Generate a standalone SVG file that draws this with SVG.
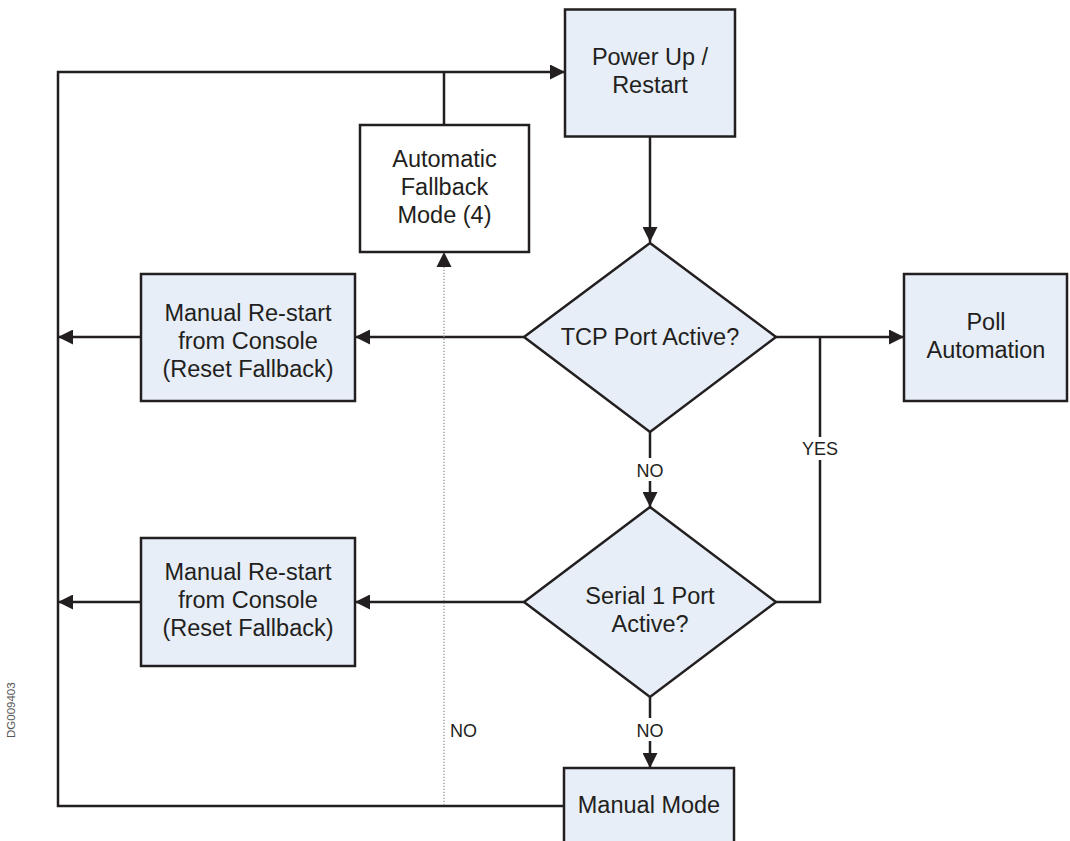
<svg xmlns="http://www.w3.org/2000/svg" width="1070" height="841" viewBox="0 0 1070 841">
<style>
.box{fill:#E7EEF7;stroke:#231F20;stroke-width:2.5}
.wbox{fill:#FFFFFF;stroke:#231F20;stroke-width:2.5}
.t{font-family:"Liberation Sans",Arial,sans-serif;font-size:23.5px;fill:#231F20;text-anchor:middle}
.lbl{font-family:"Liberation Sans",Arial,sans-serif;font-size:18px;fill:#231F20;text-anchor:middle}
.ln{fill:none;stroke:#231F20;stroke-width:2.5}
.dot{fill:none;stroke:#8A8A8A;stroke-width:1.2;stroke-dasharray:1.2 1.8}
</style>
<defs>
<marker id="ah" markerUnits="userSpaceOnUse" markerWidth="16" markerHeight="15" refX="15" refY="7.5" orient="auto">
<path d="M0,0 L15,7.5 L0,15 z" fill="#231F20"/>
</marker>
</defs>
<rect width="1070" height="841" fill="#FFFFFF"/>
<g id="connectors">
<path class="ln" d="M564,806 H58 V72 H565" marker-end="url(#ah)"/>
<path class="ln" d="M444,125 V72"/>
<path class="ln" d="M650,137 V242" marker-end="url(#ah)"/>
<path class="ln" d="M524,337 H355" marker-end="url(#ah)"/>
<path class="ln" d="M141,337 H58" marker-end="url(#ah)"/>
<path class="ln" d="M524,602 H355" marker-end="url(#ah)"/>
<path class="ln" d="M141,602 H58" marker-end="url(#ah)"/>
<path class="ln" d="M776,337 H904" marker-end="url(#ah)"/>
<path class="ln" d="M776,602 H820 V460"/>
<path class="ln" d="M820,437 V337"/>
<path class="ln" d="M650,432 V458"/>
<path class="ln" d="M650,481 V507" marker-end="url(#ah)"/>
<path class="ln" d="M650,697 V718"/>
<path class="ln" d="M650,741 V768" marker-end="url(#ah)"/>
<path class="dot" d="M444,805 V265"/>
<path d="M444,252 L451.5,267 L436.5,267 z" fill="#231F20"/>
<text class="lbl" x="820" y="455">YES</text>
<text class="lbl" x="650" y="477">NO</text>
<text class="lbl" x="650" y="737">NO</text>
<text class="lbl" x="450" y="737" style="text-anchor:start">NO</text>
</g>
<g id="power-up">
<rect class="box" x="565" y="9.5" width="170" height="127"/>
<text class="t" x="650" y="65">Power Up /</text>
<text class="t" x="650" y="93">Restart</text>
</g>
<g id="automatic-fallback">
<rect class="wbox" x="360" y="125" width="169" height="127"/>
<text class="t" x="444.5" y="167">Automatic</text>
<text class="t" x="444.5" y="195">Fallback</text>
<text class="t" x="444.5" y="223">Mode (4)</text>
</g>
<g id="manual-restart-1">
<rect class="box" x="141" y="274" width="214" height="127"/>
<text class="t" x="248" y="321">Manual Re-start</text>
<text class="t" x="248" y="349">from Console</text>
<text class="t" x="248" y="377">(Reset Fallback)</text>
</g>
<g id="tcp-decision">
<polygon class="box" points="650,243 776,337 650,432 524,337"/>
<text class="t" x="650" y="345">TCP Port Active?</text>
</g>
<g id="poll-automation">
<rect class="box" x="904" y="274" width="163" height="127"/>
<text class="t" x="986" y="330">Poll</text>
<text class="t" x="986" y="358">Automation</text>
</g>
<g id="manual-restart-2">
<rect class="box" x="141" y="538" width="214" height="128"/>
<text class="t" x="248" y="580">Manual Re-start</text>
<text class="t" x="248" y="608">from Console</text>
<text class="t" x="248" y="636">(Reset Fallback)</text>
</g>
<g id="serial-decision">
<polygon class="box" points="650,507 776,602 650,697 524,602"/>
<text class="t" x="650" y="604">Serial 1 Port</text>
<text class="t" x="650" y="632">Active?</text>
</g>
<g id="manual-mode">
<rect class="box" x="564" y="768" width="170" height="80"/>
<text class="t" x="649" y="813">Manual Mode</text>
</g>
<text x="15" y="738" transform="rotate(-90 15 738)" font-family="Liberation Sans, Arial, sans-serif" font-size="11.5" fill="#555555">DG009403</text>
</svg>
